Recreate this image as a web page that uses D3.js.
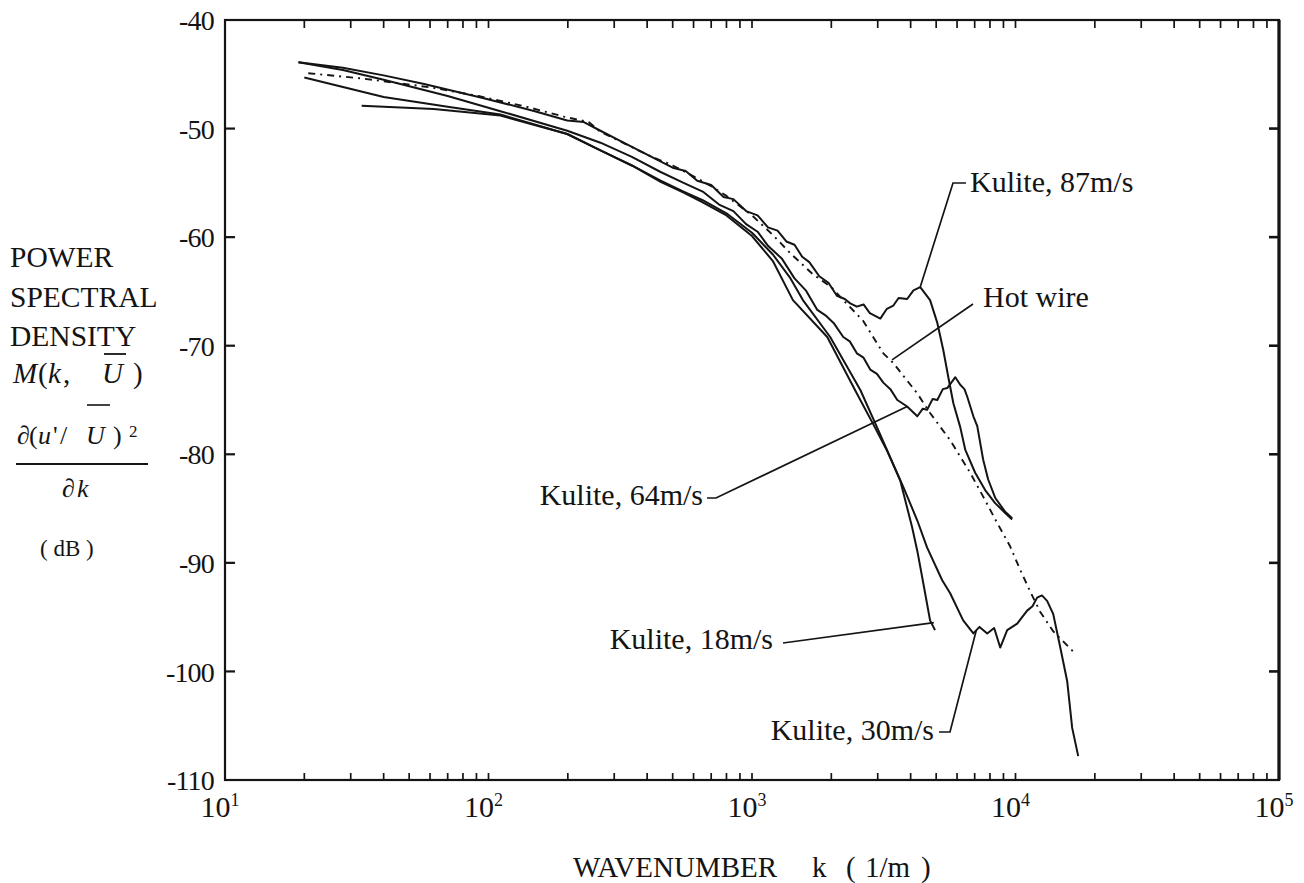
<!DOCTYPE html>
<html>
<head>
<meta charset="utf-8">
<script src="https://cdn.jsdelivr.net/npm/d3@7"></script>
<style>
  html, body { margin: 0; padding: 0; background: #fff; }
  svg text { font-family: "Liberation Serif", "Times New Roman", serif; fill: #141414; }
</style>
</head>
<body>
<svg id="chart" width="1304" height="883"></svg>
<script>
// Power spectral density M(k, U) in dB against wavenumber k (1/m)
// Each series: [wavenumber, dB]
const kulite87 = [[19,-43.9],[28,-44.4],[40,-45.1],[57,-45.9],[96,-47.2],[150,-48.4],[199,-49.25],[230,-49.4],[266,-50.2],[320,-51.2],[400,-52.4],[500,-53.6],[560,-53.9],[620,-54.8],[700,-55.2],[780,-56.3],[850,-56.5],[950,-57.6],[1050,-58.0],[1150,-59.1],[1250,-59.4],[1350,-60.4],[1450,-60.7],[1550,-61.8],[1650,-62.3],[1800,-63.6],[1950,-64.2],[2100,-65.4],[2250,-65.7],[2360,-66.1],[2500,-66.4],[2650,-66.2],[2800,-67.0],[3070,-67.5],[3250,-66.6],[3440,-66.3],[3600,-65.6],[3880,-65.7],[4100,-64.9],[4350,-64.6],[4740,-65.8],[5050,-67.9],[5320,-70.4],[5560,-72.9],[5810,-75.3],[6170,-77.5],[6450,-79.6],[7030,-81.7],[7670,-83.3],[8370,-84.5],[9140,-85.4],[9710,-86.0]];
const kulite64 = [[19,-43.9],[28,-44.6],[40,-45.5],[70,-47.0],[111,-48.4],[199,-50.2],[266,-51.3],[350,-52.6],[450,-54.0],[550,-55.0],[650,-55.8],[750,-57.0],[850,-57.6],[950,-58.8],[1050,-59.5],[1150,-60.8],[1300,-62.0],[1450,-63.8],[1600,-64.9],[1770,-66.7],[1900,-67.2],[2040,-67.9],[2220,-69.2],[2350,-69.6],[2500,-70.7],[2650,-71.1],[2810,-72.2],[2980,-72.6],[3150,-73.4],[3350,-74.0],[3560,-75.0],[3880,-75.6],[4240,-76.5],[4450,-75.8],[4620,-75.9],[4850,-74.9],[5050,-75.0],[5300,-74.0],[5510,-73.9],[5910,-72.9],[6170,-73.6],[6400,-74.0],[6560,-74.7],[6920,-76.5],[7160,-77.4],[7540,-80.5],[7870,-82.3],[8370,-84.0],[9140,-85.3],[9710,-85.9]];
const kulite30 = [[20,-45.3],[40,-47.1],[70,-48.0],[111,-48.7],[199,-50.5],[266,-52.0],[350,-53.4],[450,-54.8],[550,-55.8],[650,-56.6],[800,-57.8],[1000,-59.6],[1200,-61.6],[1400,-63.8],[1560,-65.8],[1980,-69.2],[2580,-74.1],[2980,-77.5],[3350,-80.3],[3750,-83.0],[4240,-86.1],[4620,-88.6],[5270,-91.6],[5650,-92.8],[6330,-95.3],[6920,-96.5],[7300,-95.9],[7810,-96.5],[8300,-96.0],[8750,-97.8],[9300,-96.2],[10150,-95.6],[10600,-95.0],[11070,-94.4],[11600,-94.0],[12080,-93.2],[12600,-93.0],[13180,-93.5],[13900,-94.7],[14790,-97.8],[15710,-100.9],[16410,-105.2],[17300,-107.8]];
const kulite18 = [[33,-47.9],[62,-48.2],[111,-48.8],[199,-50.5],[266,-52.0],[350,-53.4],[450,-54.9],[550,-55.9],[650,-56.8],[800,-58.0],[1000,-59.9],[1200,-62.2],[1430,-65.8],[1930,-69.2],[2500,-74.4],[2880,-77.2],[3260,-79.7],[3650,-82.4],[4050,-86.7],[4240,-88.9],[4470,-91.9],[4740,-95.3],[4950,-96.2]];
const hotWire = [[20.7,-44.9],[33.5,-45.4],[60,-46.2],[91.6,-47.0],[140,-48.0],[193,-48.9],[240,-49.4],[266,-50.3],[330,-51.4],[400,-52.4],[500,-53.4],[600,-54.4],[700,-55.3],[800,-56.2],[1000,-58.0],[1200,-59.8],[1400,-61.5],[1700,-63.4],[2000,-64.6],[2220,-65.8],[2640,-67.7],[3150,-70.7],[3440,-71.6],[4240,-74.4],[4740,-76.2],[5650,-78.7],[6730,-81.7],[7540,-83.9],[8510,-86.3],[9550,-88.5],[10400,-90.6],[11400,-92.7],[12400,-94.5],[13900,-96.3],[15700,-97.6],[16600,-98.2]];

const yTickValues = [-40,-50,-60,-70,-80,-90,-100,-110];
const xDecades = [1,2,3,4,5];
const yLabelLines = ["POWER","SPECTRAL","DENSITY"];

const svg = d3.select("#chart");
const plotLeft = 225, plotRight = 1279, plotTop = 20, plotBottom = 780;
const x = d3.scaleLog().domain([10, 1e5]).range([plotLeft, plotRight]);
const y = d3.scaleLinear().domain([-110, -40]).range([plotBottom, plotTop]);
const ink = "#141414";

// frame
svg.append("rect").attr("x", plotLeft).attr("y", plotTop)
  .attr("width", plotRight - plotLeft).attr("height", plotBottom - plotTop)
  .attr("fill", "none").attr("stroke", ink).attr("stroke-width", 2.2);
svg.append("line").attr("x1", plotRight).attr("x2", plotRight).attr("y1", plotTop).attr("y2", plotBottom)
  .attr("stroke", ink).attr("stroke-width", 3.2);

// log ticks on bottom (upward) and top (downward)
const minorTicks = x.ticks().filter(v => v > 10 && v < 1e5);
const tk = svg.append("g").attr("stroke", ink).attr("stroke-width", 1.7);
minorTicks.forEach(v => {
  tk.append("line").attr("x1", x(v)).attr("x2", x(v)).attr("y1", plotBottom).attr("y2", plotBottom - 7);
  tk.append("line").attr("x1", x(v)).attr("x2", x(v)).attr("y1", plotTop).attr("y2", plotTop + 8);
});
// y ticks on both sides (inward)
yTickValues.filter(v => v > -110 && v < -40).forEach(v => {
  tk.append("line").attr("x1", plotLeft).attr("x2", plotLeft + 10).attr("y1", y(v)).attr("y2", y(v)).attr("stroke-width", 2.2);
  tk.append("line").attr("x1", plotRight).attr("x2", plotRight - 10).attr("y1", y(v)).attr("y2", y(v)).attr("stroke-width", 2.6);
});

// y tick labels
svg.append("g").selectAll("text").data(yTickValues).join("text")
  .attr("x", plotLeft - 11).attr("y", d => y(d)).attr("dy", "0.36em")
  .attr("text-anchor", "end").attr("font-size", 28)
  .attr("letter-spacing", -0.8)
  .text(d => d);

// x tick labels 10^n
const xl = svg.append("g");
xDecades.forEach(p => {
  const t = xl.append("text").attr("x", x(Math.pow(10, p)) - 5).attr("y", 817)
    .attr("text-anchor", "middle").attr("font-size", 30);
  t.append("tspan").text("10");
  t.append("tspan").attr("font-size", 18).attr("dy", -11).text(p);
});

// x axis title
const xt = svg.append("g").attr("font-size", 29);
xt.append("text").attr("x", 573).attr("y", 877).text("WAVENUMBER");
xt.append("text").attr("x", 812).attr("y", 877).text("k");
xt.append("text").attr("x", 846).attr("y", 877).text("(");
xt.append("text").attr("x", 865).attr("y", 877).text("1/m");
xt.append("text").attr("x", 921).attr("y", 877).text(")");

// y axis title block
const yl = svg.append("g");
yLabelLines.forEach((s, i) => {
  yl.append("text").attr("x", 10).attr("y", 267 + i * 39.5).attr("font-size", 29.5).text(s);
});
const mRow = [
  { t: "M", x: 13, it: true }, { t: "(", x: 38 }, { t: "k", x: 48, it: true },
  { t: ",", x: 63 }, { t: "U", x: 102, it: true }, { t: ")", x: 133 }
];
mRow.forEach(g => {
  yl.append("text").attr("x", g.x).attr("y", 383).attr("font-size", 29)
    .attr("font-style", g.it ? "italic" : "normal").text(g.t);
});
yl.append("line").attr("x1", 104).attr("x2", 126).attr("y1", 354).attr("y2", 354).attr("stroke", ink).attr("stroke-width", 1.8);

const numRow = [
  { t: "\u2202", x: 17 }, { t: "(", x: 29 }, { t: "u", x: 38, it: true },
  { t: "'", x: 53 }, { t: "/", x: 60 }, { t: "U", x: 86, it: true }, { t: ")", x: 113 }
];
numRow.forEach(g => {
  yl.append("text").attr("x", g.x).attr("y", 444).attr("font-size", 26)
    .attr("font-style", g.it ? "italic" : "normal").text(g.t);
});
yl.append("text").attr("x", 129).attr("y", 437).attr("font-size", 17).text("2");
yl.append("line").attr("x1", 87).attr("x2", 110).attr("y1", 405).attr("y2", 405).attr("stroke", ink).attr("stroke-width", 1.6);
yl.append("line").attr("x1", 16).attr("x2", 148).attr("y1", 464).attr("y2", 464).attr("stroke", ink).attr("stroke-width", 2);
yl.append("text").attr("x", 62).attr("y", 497).attr("font-size", 26).text("\u2202");
yl.append("text").attr("x", 77).attr("y", 497).attr("font-size", 26).attr("font-style", "italic").text("k");
yl.append("text").attr("x", 40).attr("y", 556).attr("font-size", 23).attr("xml:space", "preserve").text("( dB )");

// spectra
const line = d3.line().x(d => x(d[0])).y(d => y(d[1])).curve(d3.curveLinear);
const curves = svg.append("g").attr("fill", "none").attr("stroke", ink).attr("stroke-linejoin", "round");
[kulite87, kulite64, kulite30, kulite18].forEach(s => {
  curves.append("path").attr("d", line(s)).attr("stroke-width", 2);
});
curves.append("path").attr("d", line(hotWire)).attr("stroke-width", 1.9)
  .attr("stroke-dasharray", "7,5,2,5");

// labels with leader lines
const labels = [
  { text: "Kulite, 87m/s", tx: 970, ty: 192, anchor: "start", pts: [[966,183],[953,183],[x(4350), y(-64.6)]] },
  { text: "Hot wire", tx: 983, ty: 307, anchor: "start", pts: [[973,304],[x(3400), y(-71.3)]] },
  { text: "Kulite, 64m/s", tx: 703, ty: 505, anchor: "end", pts: [[707,498],[716,498],[x(3880), y(-75.6)]] },
  { text: "Kulite, 18m/s", tx: 773, ty: 649, anchor: "end", pts: [[783,643],[x(4900), y(-95.5)]] },
  { text: "Kulite, 30m/s", tx: 934, ty: 740, anchor: "end", pts: [[939,732],[950,732],[x(7100), y(-96.2)]] }
];
const lab = svg.append("g");
labels.forEach(l => {
  lab.append("text").attr("x", l.tx).attr("y", l.ty).attr("text-anchor", l.anchor)
    .attr("font-size", 30).text(l.text);
  lab.append("path").attr("d", d3.line()(l.pts)).attr("fill", "none")
    .attr("stroke", ink).attr("stroke-width", 1.7);
});
</script>
</body>
</html>
